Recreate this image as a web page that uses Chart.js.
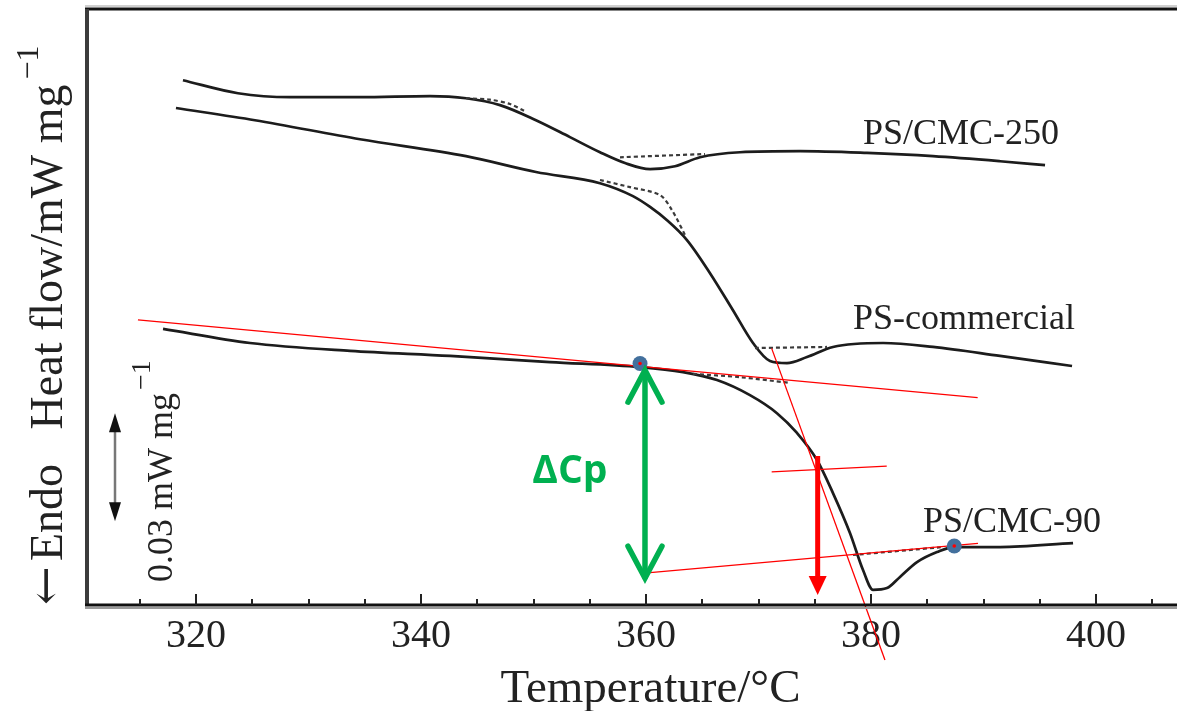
<!DOCTYPE html>
<html>
<head>
<meta charset="utf-8">
<script src="https://cdn.jsdelivr.net/npm/chart.js@4.4.1/dist/chart.umd.min.js"></script>
<style>
html, body { margin:0; padding:0; background:#fff; }
canvas { display:block; }
</style>
</head>
<body>
<canvas id="mycanvas" width="1177" height="711"></canvas>
<script>
// temperature (°C) / heat flow (mW mg-1, shifted curves)
var tempCMC250 = [318.84, 323.73, 328.36, 334.58, 340.80, 344.00, 347.02, 350.22, 353.24, 355.91, 358.13, 360.36, 362.58, 364.80, 368.36, 373.69, 379.64, 385.51, 391.47, 395.47];
var flowCMC250 = [0.1458, 0.1422, 0.1411, 0.1411, 0.1414, 0.1408, 0.1389, 0.1347, 0.1300, 0.1258, 0.1228, 0.1211, 0.1219, 0.1244, 0.1258, 0.1261, 0.1256, 0.1247, 0.1233, 0.1222];

var tempComm = [318.22, 325.24, 334.58, 344.00, 350.22, 355.91, 358.84, 360.36, 361.87, 363.64, 365.69, 367.73, 369.51, 371.02, 372.53, 374.31, 376.62, 381.07, 385.51, 391.47, 397.87];
var flowComm = [0.1381, 0.1347, 0.1294, 0.1247, 0.1203, 0.1172, 0.1136, 0.1106, 0.1069, 0.1014, 0.0922, 0.0819, 0.0728, 0.0678, 0.0672, 0.0689, 0.0717, 0.0728, 0.0717, 0.0692, 0.0664];

var tempCMC90 = [317.07, 324.80, 333.69, 342.58, 351.47, 359.47, 363.29, 366.31, 369.24, 371.64, 373.42, 375.20, 376.62, 378.13, 379.29, 380.18, 381.42, 382.58, 384.09, 385.87, 387.38, 391.47, 397.96];
var flowCMC90 = [0.0767, 0.0728, 0.0706, 0.0692, 0.0675, 0.0661, 0.0647, 0.0625, 0.0583, 0.0533, 0.0478, 0.0403, 0.0311, 0.0200, 0.0097, 0.0042, 0.0047, 0.0078, 0.0119, 0.0147, 0.0161, 0.0161, 0.0172];

// dotted baseline extrapolations
var dotCMC250aT = [344.00, 346.13, 347.91, 349.24], dotCMC250aY = [0.1408, 0.1404, 0.1392, 0.1372];
var dotCMC250bT = [357.69, 365.24], dotCMC250bY = [0.1244, 0.1253];
var dotCommaT = [355.91, 358.58, 361.24, 362.31, 363.47], dotCommaY = [0.1181, 0.1161, 0.1139, 0.1097, 0.1028];
var dotCommbT = [369.69, 376.09], dotCommbY = [0.0714, 0.0717];
var dotCMC90aT = [364.18, 368.36, 372.80], dotCMC90aY = [0.0642, 0.0633, 0.0617];
var dotCMC90bT = [378.40, 386.40], dotCMC90bY = [0.0139, 0.0161];

// red tangent lines
var tan1T = [314.84, 389.48], tan1Y = [0.0792, 0.0576];
var tan2T = [371.17, 381.24], tan2Y = [0.0713, -0.0153];
var tan3T = [371.17, 381.40], tan3Y = [0.0370, 0.0386];
var tan4T = [360.36, 389.51], tan4Y = [0.0090, 0.0171];

// onset / endset points
var markT = [359.47, 387.40];
var markY = [0.0671, 0.0164];

// arrows: [temperature, from, to]
var dCpArrow = [359.91, 0.0658, 0.0069];
var tgArrow = [375.26, 0.0414, 0.0028];
var scaleBar = [312.8, 0.0233, 0.0533];

var xTicks = [320, 340, 360, 380, 400];
var curveNames = ['PS/CMC-250', 'PS-commercial', 'PS/CMC-90'];

function pts(xs, ys) {
    var out = [];
    for (var i in xs) {
        out.push({x: xs[i], y: ys[i]});
    }
    return out;
}

function curve(xs, ys) {
    return { data: pts(xs, ys), borderColor: '#1c1c1c', borderWidth: 2.7, pointRadius: 0,
             cubicInterpolationMode: 'monotone', fill: false, order: 5 };
}
function dotted(xs, ys) {
    return { data: pts(xs, ys), borderColor: '#3a3a3a', borderWidth: 2.2, borderDash: [4, 3],
             pointRadius: 0, tension: 0.3, fill: false, order: 4 };
}
function redline(xs, ys) {
    return { data: pts(xs, ys), borderColor: '#ff0000', borderWidth: 1.3, pointRadius: 0,
             tension: 0, fill: false, order: 3, clip: false };
}

var deco = {
    id: 'deco',
    afterDraw: function (chart) {
        var ctx = chart.ctx, a = chart.chartArea;
        var xs = chart.scales.x, ys = chart.scales.y;
        ctx.save();

        // frame
        ctx.lineCap = 'butt';
        ctx.strokeStyle = '#d0d0d0'; ctx.lineWidth = 2;
        ctx.beginPath(); ctx.moveTo(85, a.top - 3); ctx.lineTo(a.right, a.top - 3); ctx.stroke();
        ctx.strokeStyle = '#111'; ctx.lineWidth = 3;
        ctx.beginPath(); ctx.moveTo(85, a.top); ctx.lineTo(a.right, a.top); ctx.stroke();
        ctx.strokeStyle = '#3c3c3c'; ctx.lineWidth = 4;
        ctx.beginPath(); ctx.moveTo(a.left - 1, a.top); ctx.lineTo(a.left - 1, a.bottom + 1); ctx.stroke();
        ctx.strokeStyle = '#999'; ctx.lineWidth = 2;
        ctx.beginPath(); ctx.moveTo(a.left - 3, a.bottom + 3); ctx.lineTo(a.right, a.bottom + 3); ctx.stroke();
        ctx.strokeStyle = '#111'; ctx.lineWidth = 3;
        ctx.beginPath(); ctx.moveTo(a.left - 3, a.bottom); ctx.lineTo(a.right, a.bottom); ctx.stroke();

        // inside ticks
        ctx.strokeStyle = '#222'; ctx.lineWidth = 2;
        for (var v = 315; v <= 405; v += 5) {
            var px = Math.round(xs.getPixelForValue(v));
            var len = (v % 20 === 0) ? 11 : 6;
            ctx.beginPath(); ctx.moveTo(px, a.bottom); ctx.lineTo(px, a.bottom - len); ctx.stroke();
        }

        // ΔCp double arrow
        var gx = xs.getPixelForValue(dCpArrow[0]);
        var g1 = ys.getPixelForValue(dCpArrow[1]), g2 = ys.getPixelForValue(dCpArrow[2]);
        ctx.strokeStyle = '#00b050'; ctx.lineWidth = 5.5; ctx.lineJoin = 'miter'; ctx.lineCap = 'round';
        ctx.beginPath(); ctx.moveTo(gx, g1 + 3); ctx.lineTo(gx, g2 - 3); ctx.stroke();
        ctx.beginPath(); ctx.moveTo(gx - 17, g1 + 34); ctx.lineTo(gx, g1 + 2); ctx.lineTo(gx + 17, g1 + 34); ctx.stroke();
        ctx.beginPath(); ctx.moveTo(gx - 17, g2 - 34); ctx.lineTo(gx, g2 - 2); ctx.lineTo(gx + 17, g2 - 34); ctx.stroke();

        // red arrow
        var rx = xs.getPixelForValue(tgArrow[0]);
        var r1 = ys.getPixelForValue(tgArrow[1]), r2 = ys.getPixelForValue(tgArrow[2]);
        ctx.strokeStyle = '#ff0000'; ctx.fillStyle = '#ff0000'; ctx.lineWidth = 5; ctx.lineCap = 'butt';
        ctx.beginPath(); ctx.moveTo(rx, r1); ctx.lineTo(rx, r2 - 16); ctx.stroke();
        ctx.beginPath(); ctx.moveTo(rx - 9, r2 - 19); ctx.lineTo(rx + 9, r2 - 19); ctx.lineTo(rx, r2); ctx.closePath(); ctx.fill();

        // scale bar 0.03 mW mg-1
        var sx = xs.getPixelForValue(scaleBar[0]);
        var s1 = ys.getPixelForValue(scaleBar[1]), s2 = ys.getPixelForValue(scaleBar[2]);
        ctx.strokeStyle = '#777'; ctx.lineWidth = 2.5;
        ctx.beginPath(); ctx.moveTo(sx, s1 - 10); ctx.lineTo(sx, s2 + 10); ctx.stroke();
        ctx.fillStyle = '#111';
        ctx.beginPath(); ctx.moveTo(sx - 6, s2 + 19); ctx.lineTo(sx + 6, s2 + 19); ctx.lineTo(sx, s2); ctx.closePath(); ctx.fill();
        ctx.beginPath(); ctx.moveTo(sx - 6, s1 - 19); ctx.lineTo(sx + 6, s1 - 19); ctx.lineTo(sx, s1); ctx.closePath(); ctx.fill();

        // curve labels
        ctx.fillStyle = '#222';
        ctx.font = '36px "Liberation Serif"';
        ctx.textAlign = 'left'; ctx.textBaseline = 'alphabetic';
        ctx.fillText(curveNames[0], xs.getPixelForValue(379.29), ys.getPixelForValue(0.1281));
        ctx.fillText(curveNames[1], xs.getPixelForValue(378.40), ys.getPixelForValue(0.0767));
        ctx.fillText(curveNames[2], xs.getPixelForValue(384.62), ys.getPixelForValue(0.0203));

        // x axis title
        ctx.font = '47px "Liberation Serif"';
        ctx.textAlign = 'center';
        ctx.fillText('Temperature/°C', xs.getPixelForValue(360.4), 702);

        // ΔCp label
        ctx.fillStyle = '#00b050';
        ctx.font = 'bold 39px "Open Sans"';
        ctx.fillText('ΔCp', xs.getPixelForValue(353.24), ys.getPixelForValue(0.0339));

        // rotated texts
        ctx.fillStyle = '#222';
        ctx.textAlign = 'left';
        ctx.save();
        ctx.translate(62, 605);
        ctx.rotate(-Math.PI / 2);
        ctx.font = '46px "DejaVu Serif"';
        ctx.fillText('\u2190', 0, -1);
        var wa = ctx.measureText('\u2190').width;
        ctx.font = '46px "Liberation Serif"';
        var t1 = 'Endo   Heat flow/mW mg';
        var t1x = Math.max(wa + 2, 44);
        ctx.fillText(t1, t1x, 0);
        var w1 = t1x + ctx.measureText(t1).width;
        ctx.font = '32px "Liberation Serif"';
        ctx.fillText('\u22121', w1 + 5, -24);
        ctx.restore();

        ctx.save();
        ctx.translate(172, 582);
        ctx.rotate(-Math.PI / 2);
        ctx.font = '36px "Liberation Serif"';
        var t2 = '0.03 mW mg';
        ctx.fillText(t2, 0, 0);
        var w2 = ctx.measureText(t2).width;
        ctx.font = '28px "Liberation Serif"';
        ctx.fillText('\u22121', w2 + 3, -22);
        ctx.restore();

        ctx.restore();
    }
};

var ctx = document.getElementById('mycanvas');
var dscChart = new Chart(ctx, {
    type: 'line',
    data: {
        datasets: [
            { type: 'scatter', data: pts(markT, markY), pointRadius: 1.8, pointBackgroundColor: '#ff0000',
              pointBorderWidth: 0, showLine: false, order: 0 },
            { type: 'scatter', data: pts(markT, markY), pointRadius: 7.5, pointBackgroundColor: '#43709d',
              pointBorderWidth: 0, showLine: false, order: 1 },
            redline(tan1T, tan1Y),
            redline(tan2T, tan2Y),
            redline(tan3T, tan3Y),
            redline(tan4T, tan4Y),
            dotted(dotCMC250aT, dotCMC250aY),
            dotted(dotCMC250bT, dotCMC250bY),
            dotted(dotCommaT, dotCommaY),
            dotted(dotCommbT, dotCommbY),
            dotted(dotCMC90aT, dotCMC90aY),
            dotted(dotCMC90bT, dotCMC90bY),
            curve(tempCMC250, flowCMC250),
            curve(tempComm, flowComm),
            curve(tempCMC90, flowCMC90)
        ]
    },
    options: {
        responsive: false,
        animation: false,
        devicePixelRatio: 1,
        layout: { autoPadding: false, padding: { left: 88, top: 9, right: 0, bottom: 0 } },
        plugins: { legend: { display: false }, tooltip: { enabled: false } },
        scales: {
            x: {
                type: 'linear',
                min: 310.4,
                max: 407.2,
                grid: { display: false, drawTicks: false },
                border: { display: false },
                afterBuildTicks: function (scale) {
                    scale.ticks = xTicks.map(function (v) { return {value: v}; });
                },
                afterFit: function (scale) { scale.height = 106; },
                ticks: {
                    color: '#222',
                    padding: 7,
                    maxRotation: 0,
                    autoSkip: false,
                    font: { family: 'Liberation Serif', size: 40 }
                }
            },
            y: {
                display: false,
                min: 0,
                max: 0.1656
            }
        }
    },
    plugins: [deco]
});
</script>
</body>
</html>
